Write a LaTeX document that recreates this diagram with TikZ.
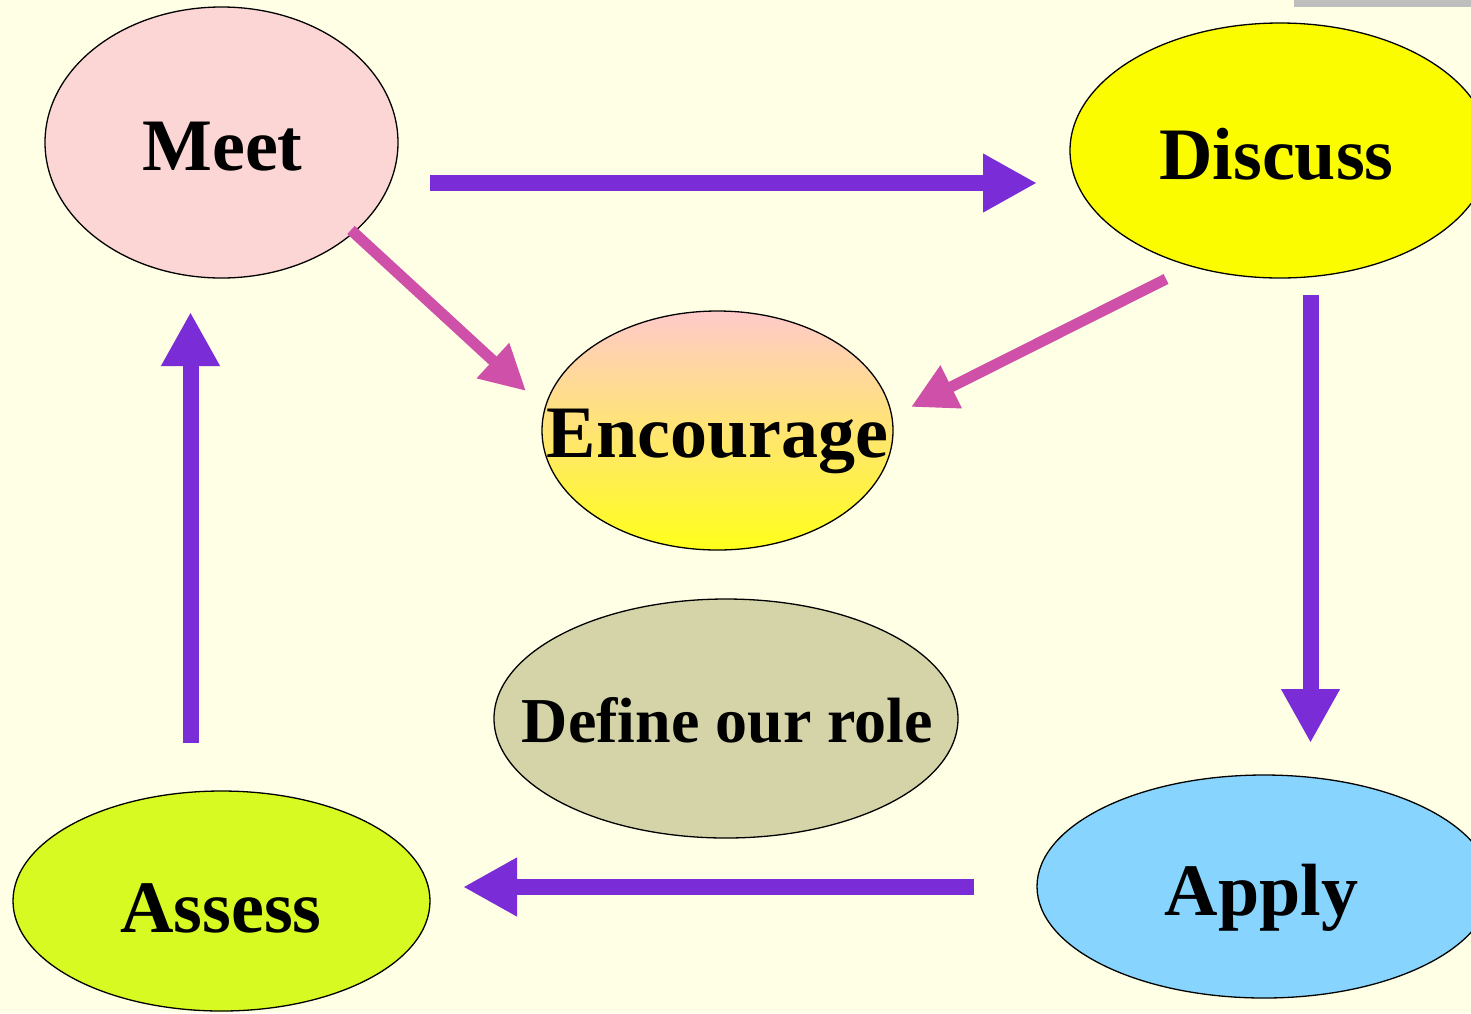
\documentclass[tikz,border=0pt]{standalone}
\usepackage{fontspec}
\setmainfont{Liberation Serif}
\usetikzlibrary{shapes.geometric,arrows.meta}
\definecolor{bgc}{HTML}{FFFFE6}
\definecolor{purp}{HTML}{7A2DD7}
\definecolor{pinkc}{HTML}{CF50A8}
\definecolor{meetc}{HTML}{FCD5D5}
\definecolor{discc}{HTML}{FCFC00}
\definecolor{enctop}{HTML}{FFCACA}
\definecolor{encbot}{HTML}{FFFF1A}
\definecolor{defc}{HTML}{D4D4A8}
\definecolor{assc}{HTML}{D6FA22}
\definecolor{appc}{HTML}{87D5FF}
\definecolor{barc}{HTML}{BEBEBE}
\begin{document}
\begin{tikzpicture}[x=1pt,y=-1pt,
  bubble/.style={ellipse, draw=black, line width=1.3pt, inner sep=0pt},
  lbl/.style={anchor=base, inner sep=0pt, font=\bfseries\fontsize{74}{80}\selectfont},
  smalllbl/.style={anchor=base, inner sep=0pt, font=\bfseries\fontsize{64}{70}\selectfont},
  bigarrow/.style={draw=purp, line width=16pt, -{Triangle[width=55pt,length=54pt]}},
  pinkarrow/.style={draw=pinkc, line width=11pt, -{Triangle[width=45pt,length=45pt]}}]
\useasboundingbox (0,0) rectangle (1471,1013);
\clip (0,0) rectangle (1471,1013);
\fill[bgc] (0,0) rectangle (1471,1013);
\fill[barc] (1294,0) rectangle (1471,7);

% ellipses
\node[bubble, fill=meetc, minimum width=353, minimum height=271] (meet) at (221.5,142.5) {};
\node[bubble, fill=discc, minimum width=420, minimum height=255] (discuss) at (1280,150.5) {};
\node[bubble, top color=enctop, bottom color=encbot, minimum width=351, minimum height=239] (encourage) at (717.5,430.5) {};
\node[bubble, fill=defc, minimum width=464, minimum height=239] (define) at (726,718.5) {};
\node[bubble, fill=assc, minimum width=417, minimum height=220] (assess) at (221.5,901) {};
\node[bubble, fill=appc, minimum width=454, minimum height=223] (apply) at (1264,886.5) {};

% labels
\node[lbl] (meetlbl) at (222.5,170) {Meet};
\node[lbl] (discusslbl) at (1276.5,179) {Discuss};
\node[lbl] (encouragelbl) at (717.5,457) {Encourage};
\node[smalllbl] (definelbl) at (727.5,742) {Define our role};
\node[lbl] (assesslbl) at (221,932) {Assess};
\node[lbl] (applylbl) at (1261.5,915) {Apply};

% arrow end points
\coordinate (a1s) at (430,183);
\coordinate (a1e) at (1037,183);
\coordinate (a2s) at (1310.5,295);
\coordinate (a2e) at (1310.5,743);
\coordinate (a3s) at (974,887);
\coordinate (a3e) at (463,887);
\coordinate (a4s) at (190.5,743);
\coordinate (a4e) at (190.5,312);
\coordinate (a5s) at (351,230);
\coordinate (a5e) at (526,391);
\coordinate (a6s) at (1166,279);
\coordinate (a6e) at (911,407);

\draw[bigarrow] (a1s) -- (a1e);
\draw[bigarrow] (a2s) -- (a2e);
\draw[bigarrow] (a3s) -- (a3e);
\draw[bigarrow] (a4s) -- (a4e);
\draw[pinkarrow] (a5s) -- (a5e);
\draw[pinkarrow] (a6s) -- (a6e);
\end{tikzpicture}
\end{document}
